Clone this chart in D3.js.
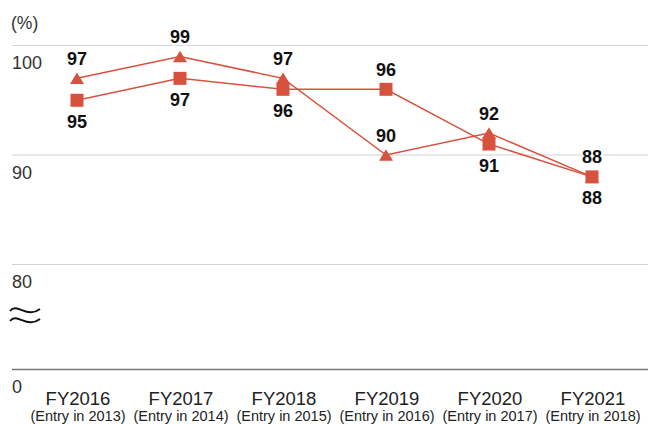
<!DOCTYPE html>
<html><head><meta charset="utf-8">
<script src="https://cdn.jsdelivr.net/npm/d3@7"></script>
<style>html,body{margin:0;padding:0;background:#fff;}svg{display:block;}</style>
</head><body>
<svg id="c" width="648" height="424"></svg>
<script>
const years = ["FY2016","FY2017","FY2018","FY2019","FY2020","FY2021"];
const entries = ["(Entry in 2013)","(Entry in 2014)","(Entry in 2015)","(Entry in 2016)","(Entry in 2017)","(Entry in 2018)"];
const triangleValues = [97, 99, 97, 90, 92, 88];
const squareValues = [95, 97, 96, 96, 91, 88];
const squareLabelAbove = [false, false, false, true, false, false];
const yTicks = [100, 90, 80, 0];
const unit = "(%)";

const svg = d3.select("#c");
const color = "#d6523f";
const font = "'Liberation Sans', Arial, Helvetica, sans-serif";

const x = d3.scaleBand().domain(years).range([25.5, 643.5]);
const cx = d => x(d) + x.bandwidth() / 2;
const y = d3.scaleLinear().domain([0, 80, 100]).range([369.5, 264.5, 45.5]);

// gridlines
svg.append("g").selectAll("line").data(yTicks).join("line")
  .attr("x1", 12).attr("x2", 648)
  .attr("y1", d => y(d)).attr("y2", d => y(d))
  .attr("stroke", d => d === 0 ? "#7a7a7a" : "#d2d2d2")
  .attr("stroke-width", d => d === 0 ? 1.6 : 1.2);

// y tick labels
svg.append("g").selectAll("text").data(yTicks).join("text")
  .attr("x", 12).attr("y", d => y(d) + 23.5)
  .attr("font-family", font).attr("font-size", 18).attr("font-weight", 300)
  .attr("fill", "#333").text(d => d);

svg.append("text").attr("x", 11).attr("y", 29)
  .attr("font-family", font).attr("font-size", 17.5).attr("fill", "#333").text(unit);

// break symbol
const brk = svg.append("g").attr("fill", "none").attr("stroke", "#111").attr("stroke-width", 1.9);
[311, 321].forEach(yy => {
  brk.append("path").attr("d", `M10,${yy} C17,${yy-9} 27,${yy+8} 40,${yy-2}`);
});

// category labels
const xl = svg.append("g").attr("font-family", font).attr("fill", "#222").attr("text-anchor", "middle");
xl.selectAll(".fy").data(years).join("text").attr("class", "fy")
  .attr("x", d => cx(d) + 1).attr("y", 405).attr("font-size", 18.5).text(d => d);
xl.selectAll(".en").data(entries).join("text").attr("class", "en")
  .attr("x", (d, i) => cx(years[i]) + 1).attr("y", 420.5).attr("font-size", 14.5).text(d => d);

const line = vals => d3.line().x((d, i) => cx(years[i])).y(d => y(d))(vals);

svg.append("path").attr("d", line(triangleValues)).attr("fill", "none")
  .attr("stroke", color).attr("stroke-width", 1.5);
svg.append("path").attr("d", line(squareValues)).attr("fill", "none")
  .attr("stroke", color).attr("stroke-width", 1.5);

// triangles (box-centred, 14 wide x 11.5 tall)
const boxTriangle = {
  draw(ctx) {
    ctx.moveTo(0, -5.75);
    ctx.lineTo(7, 5.75);
    ctx.lineTo(-7, 5.75);
    ctx.closePath();
  }
};
const tri = d3.symbol().type(boxTriangle);
svg.append("g").selectAll("path").data(triangleValues).join("path")
  .attr("d", tri)
  .attr("transform", (d, i) => `translate(${cx(years[i])},${y(d)})`)
  .attr("fill", color);

// squares
const sq = 13;
svg.append("g").selectAll("rect").data(squareValues).join("rect")
  .attr("x", (d, i) => cx(years[i]) - sq / 2).attr("y", d => y(d) - sq / 2)
  .attr("width", sq).attr("height", sq).attr("fill", color);

// data labels
const lab = svg.append("g").attr("font-family", font).attr("font-weight", "bold")
  .attr("font-size", 18).attr("text-anchor", "middle").attr("fill", "#111")
  .attr("stroke", "#fff").attr("stroke-width", 5).attr("paint-order", "stroke")
  .attr("stroke-linejoin", "round");
lab.selectAll(".tl").data(triangleValues).join("text").attr("class", "tl")
  .attr("x", (d, i) => cx(years[i])).attr("y", d => y(d) - 13.5).text(d => d);
lab.selectAll(".sl").data(squareValues).join("text").attr("class", "sl")
  .attr("x", (d, i) => cx(years[i]))
  .attr("y", (d, i) => squareLabelAbove[i] ? y(d) - 13.5 : y(d) + 27.5).text(d => d);
</script>
</body></html>
